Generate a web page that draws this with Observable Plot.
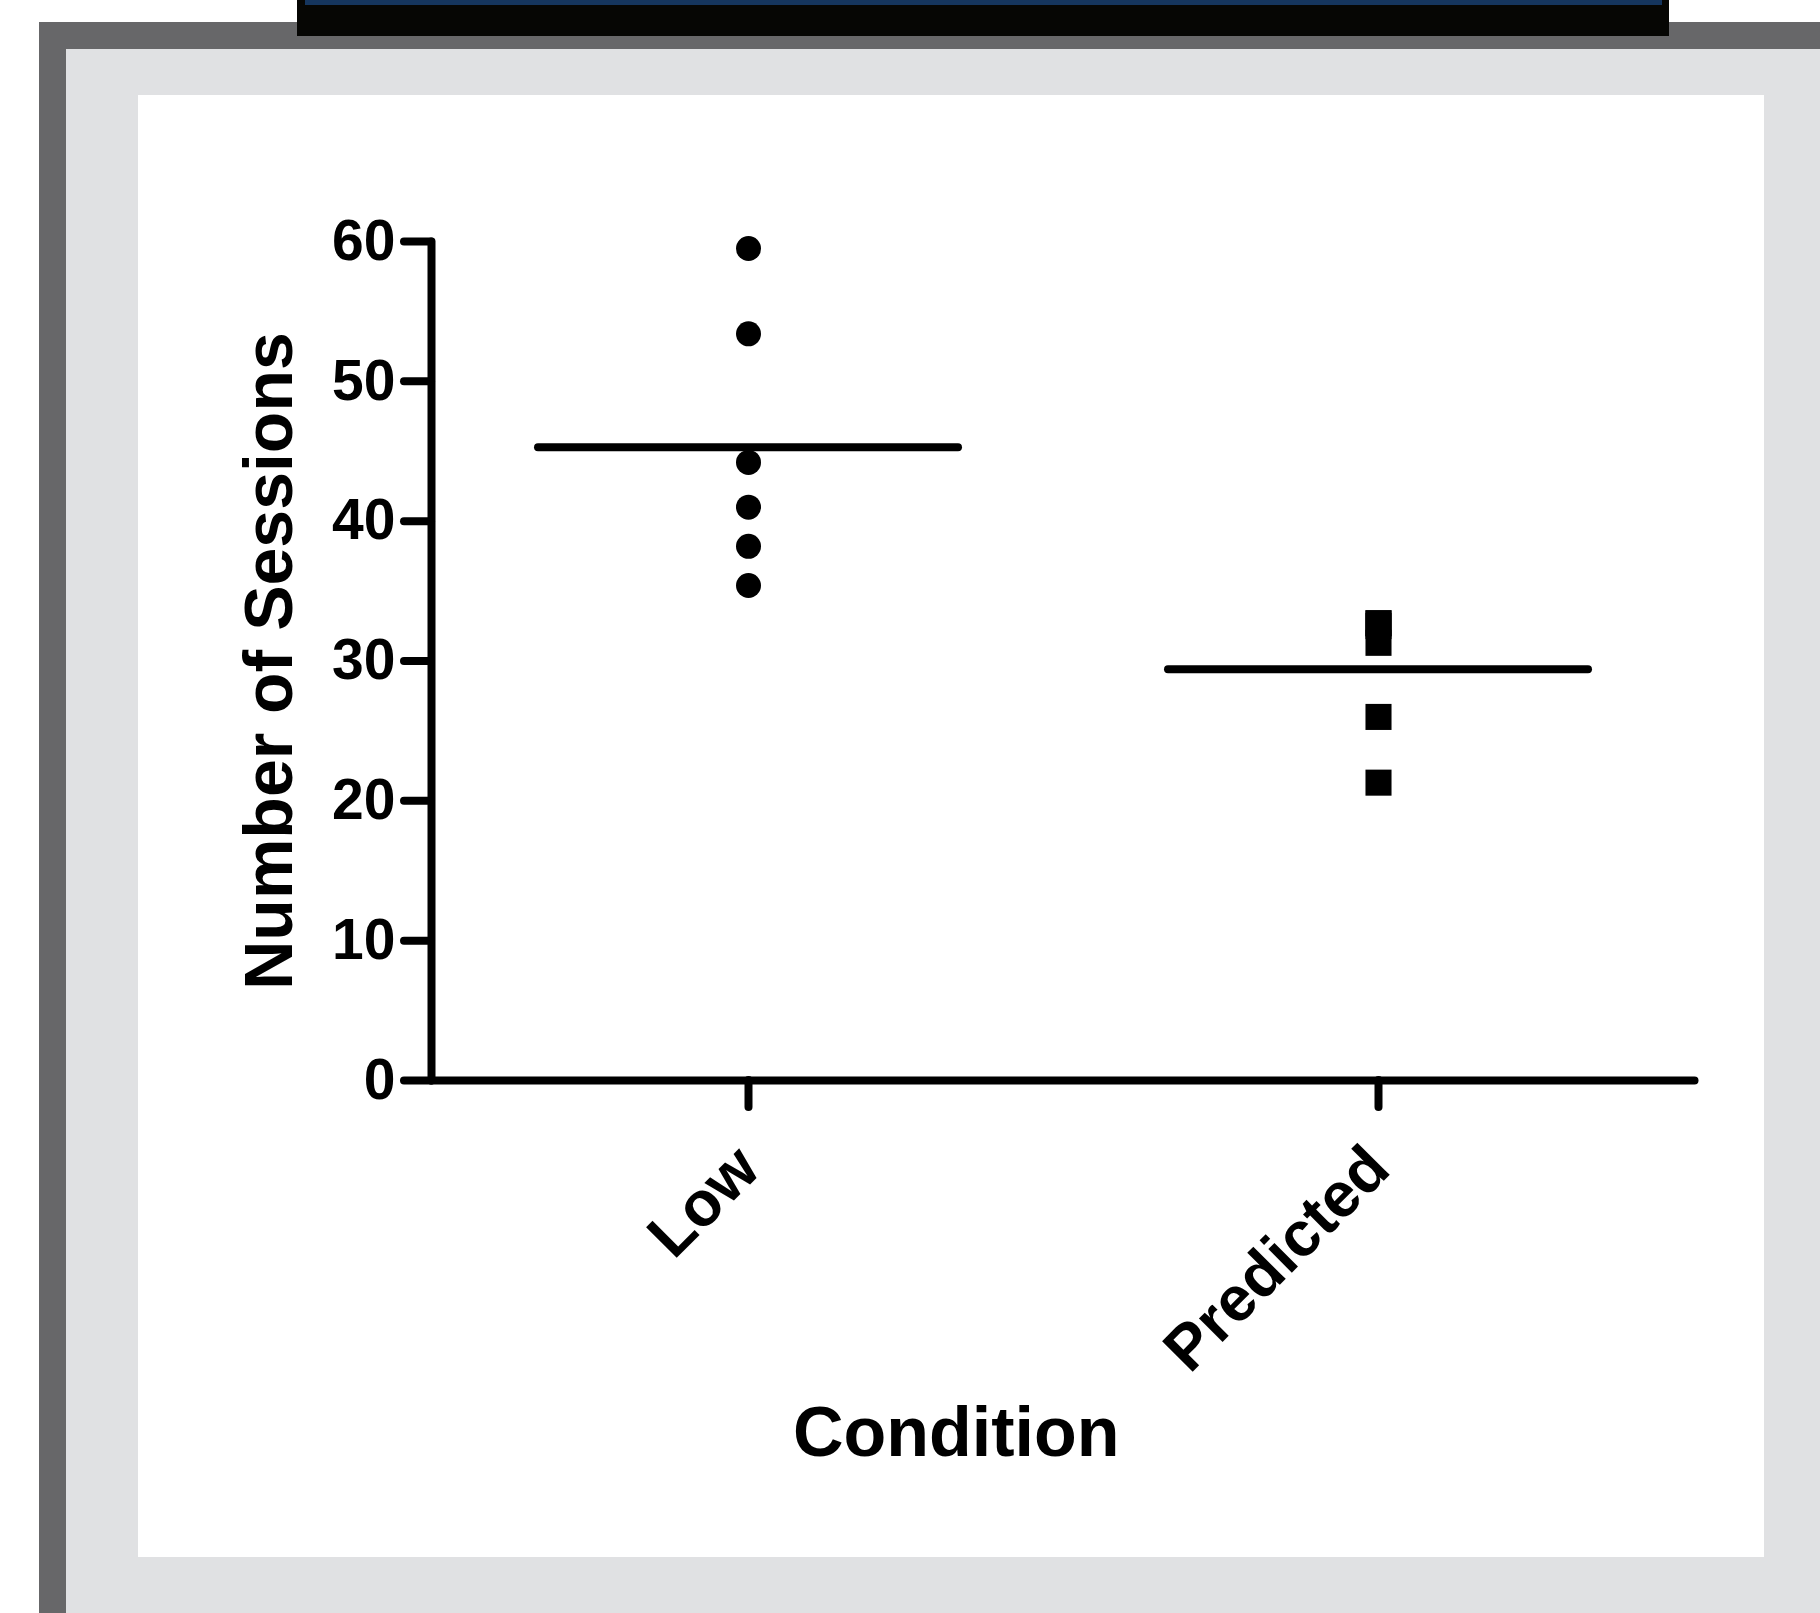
<!DOCTYPE html>
<html>
<head>
<meta charset="utf-8">
<script src="https://cdn.jsdelivr.net/npm/d3@7"></script>
<script src="https://cdn.jsdelivr.net/npm/@observablehq/plot@0.6"></script>
<style>
  html, body { margin: 0; padding: 0; }
  body { width: 1820px; height: 1613px; position: relative; overflow: hidden; background: #ffffff; }
  #outer { position: absolute; left: 39px; top: 22px; right: 0; bottom: 0; background: #676769; }
  #inner { position: absolute; left: 66px; top: 49px; right: 0; bottom: 0; background: #e0e1e3; }
  #bar { position: absolute; left: 297px; top: 0; width: 1372px; height: 36px; background: #060604; }
  #strip { position: absolute; left: 8px; top: 0; width: 1357px; height: 5px; background: #15355e; }
  #panel { position: absolute; left: 138px; top: 95px; width: 1626px; height: 1462px; background: #ffffff; }
</style>
</head>
<body>
<div id="outer"></div>
<div id="inner"></div>
<div id="bar"><div id="strip"></div></div>
<div id="panel"></div>
<script>
// ---- data ----
const conditions = ["Low", "Predicted"];
const lowValues = [59.5, 53.4, 44.2, 41.0, 38.2, 35.4];
const predictedValues = [32.7, 32.7, 32.5, 31.3, 26.0, 21.3];
const yTicks = [0, 10, 20, 30, 40, 50, 60];
const xTitle = "Condition";
const yTitle = "Number of Sessions";

const lowRows = lowValues.map(v => ({condition: conditions[0], value: v}));
const predRows = predictedValues.map(v => ({condition: conditions[1], value: v}));
const allRows = lowRows.concat(predRows);

const font = "'Liberation Sans', Arial, Helvetica, sans-serif";
const sw = 8;

const chart = Plot.plot({
  width: 1626,
  height: 1462,
  marginLeft: 293,
  marginRight: 69.5,
  marginTop: 146,
  marginBottom: 477,
  style: {background: "transparent", fontFamily: font, fontWeight: "bold", color: "#000"},
  x: {type: "band", domain: conditions, paddingInner: 0.333, paddingOuter: 0.168, label: null},
  y: {domain: [0, 60], ticks: yTicks, label: null},
  marks: [
    Plot.axisY({ticks: yTicks, tickSize: 27, tickPadding: 9, strokeWidth: sw, strokeLinecap: "round", fontSize: 57, fontWeight: "bold", label: null}),
    Plot.axisX({tickSize: 27, tickPadding: 50, strokeWidth: sw, strokeLinecap: "round", tickRotate: -45, fontSize: 63, fontWeight: "bold", label: null}),
    Plot.frame({anchor: "left", strokeWidth: sw, strokeLinecap: "round", stroke: "#000"}),
    Plot.ruleY([0], {strokeWidth: sw, strokeLinecap: "round", stroke: "#000"}),
    Plot.tickY(allRows, Plot.groupX({y: "mean"}, {x: "condition", y: "value", strokeWidth: sw, strokeLinecap: "round", stroke: "#000"})),
    Plot.dot(lowRows, {x: "condition", y: "value", symbol: "circle", r: 12.5, fill: "#000", stroke: "none"}),
    Plot.dot(predRows, {x: "condition", y: "value", symbol: "square", r: 14.7, fill: "#000", stroke: "none"}),
    Plot.text([xTitle], {text: d => d, frameAnchor: "bottom", textAnchor: "middle", dx: -107, dy: 353, lineAnchor: "middle", fontSize: 70, fontWeight: "bold", fill: "#000"}),
    Plot.text([yTitle], {text: d => d, frameAnchor: "left", textAnchor: "middle", rotate: -90, dx: -161, lineAnchor: "middle", fontSize: 68, fontWeight: "bold", fill: "#000"})
  ]
});
chart.style.overflow = "visible";
document.getElementById("panel").appendChild(chart);
</script>
</body>
</html>
